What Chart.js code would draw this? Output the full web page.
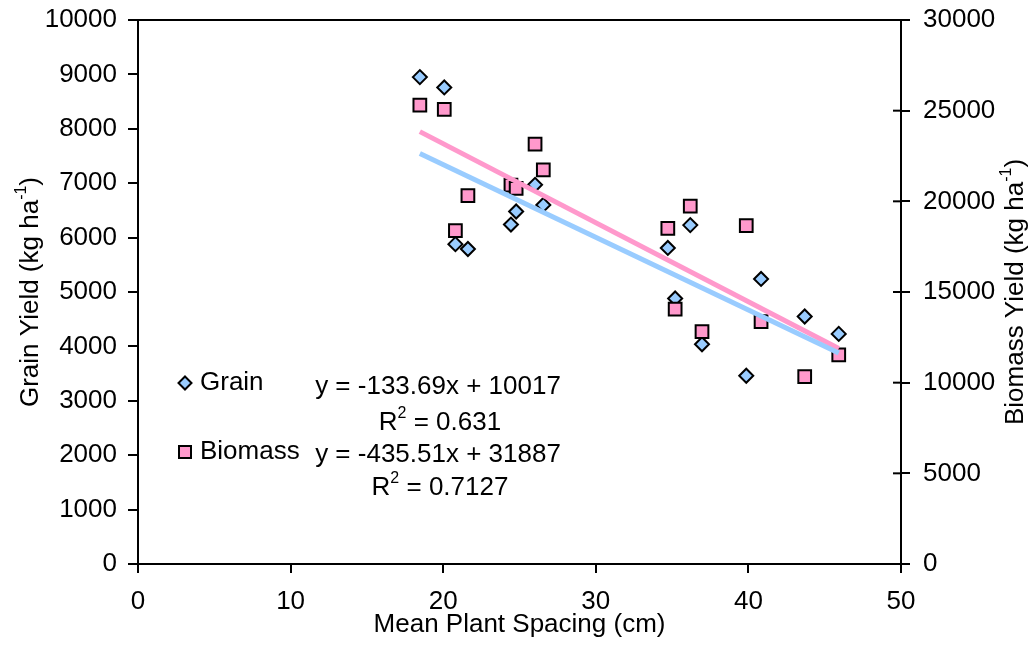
<!DOCTYPE html>
<html lang="en">
<head>
    <meta charset="UTF-8">
    <title>Grain and Biomass Yield vs Mean Plant Spacing</title>
    <script src="https://cdn.jsdelivr.net/npm/chart.js"></script>
    <style>
        body {
            margin: 0;
            background-color: #ffffff;
        }
        .wrap {
            position: relative;
            width: 1036px;
            height: 647px;
        }
    </style>
</head>
<body>
    <div class="wrap">
        <canvas id="yieldChart"></canvas>
    </div>

    <script>
        // mean plant spacing (cm) for each plot
        const spacing = [18.47, 20.07, 20.8, 21.62, 24.44, 24.78, 26.02, 26.56, 34.72, 35.2, 36.19, 36.96, 39.86, 40.83, 43.69, 45.92];
        const grain = [8950, 8760, 5880, 5790, 6240, 6480, 6970, 6600, 5810, 4880, 6230, 4040, 3460, 5240, 4550, 4230];
        const biomass = [25310, 25070, 18380, 20310, 20900, 20720, 23160, 21730, 18510, 14050, 19740, 12810, 18660, 13360, 10330, 11530];

        // linear trendline end points
        const trendX = [18.47, 45.92];
        const grainTrend = [7548, 3878];
        const biomassTrend = [23843, 11888];

        const grainEq = 'y = -133.69x + 10017';
        const grainR2 = ' = 0.631';
        const biomassEq = 'y = -435.51x + 31887';
        const biomassR2 = ' = 0.7127';

        const FONT = '"Liberation Sans", Arial, sans-serif';
        const BLUE = '#99ccff';
        const PINK = '#ff99cc';

        Chart.defaults.font.family = FONT;
        Chart.defaults.font.size = 26;
        Chart.defaults.color = '#000';

        function toPoints(xs, ys) {
            return xs.map((x, i) => ({ x: x, y: ys[i] }));
        }

        // text with superscripts, centred on x
        function richText(ctx, parts, x, y, size) {
            let total = 0;
            parts.forEach(p => {
                ctx.font = (p[1] ? Math.round(size * 0.62) : size) + 'px ' + FONT;
                total += ctx.measureText(p[0]).width;
            });
            let cx = x - total / 2;
            parts.forEach(p => {
                ctx.font = (p[1] ? Math.round(size * 0.62) : size) + 'px ' + FONT;
                ctx.fillText(p[0], cx, p[1] ? y - size * 0.38 : y);
                cx += ctx.measureText(p[0]).width;
            });
        }

        function diamond(ctx, x, y, r, fill) {
            ctx.beginPath();
            ctx.moveTo(x, y - r);
            ctx.lineTo(x + r, y);
            ctx.lineTo(x, y + r);
            ctx.lineTo(x - r, y);
            ctx.closePath();
            ctx.fillStyle = fill;
            ctx.fill();
            ctx.stroke();
        }

        const decorations = {
            id: 'decorations',
            afterDraw(chart) {
                const ctx = chart.ctx;
                const area = chart.chartArea;
                const y2 = chart.scales.y2;
                ctx.save();
                ctx.strokeStyle = '#000';
                ctx.lineWidth = 2;

                // top border of plot area
                ctx.beginPath();
                ctx.moveTo(area.left, area.top);
                ctx.lineTo(area.right, area.top);
                ctx.stroke();

                // right axis ticks cross the axis
                y2.ticks.forEach(t => {
                    const py = y2.getPixelForValue(t.value);
                    ctx.beginPath();
                    ctx.moveTo(area.right - 8, py);
                    ctx.lineTo(area.right, py);
                    ctx.stroke();
                });

                ctx.fillStyle = '#000';
                ctx.textBaseline = 'middle';
                ctx.textAlign = 'left';

                // axis titles
                const midY = (area.top + area.bottom) / 2;
                richText(ctx, [['Mean Plant Spacing (cm)', false]], (area.left + area.right) / 2, 625, 26);
                ctx.save();
                ctx.translate(31, midY);
                ctx.rotate(-Math.PI / 2);
                richText(ctx, [['Grain Yield (kg ha', false], ['-1', true], [')', false]], 0, 0, 26);
                ctx.restore();
                ctx.save();
                ctx.translate(1016, midY);
                ctx.rotate(-Math.PI / 2);
                richText(ctx, [['Biomass Yield (kg ha', false], ['-1', true], [')', false]], 0, 0, 26);
                ctx.restore();

                // legend
                const lx = area.left + 47;
                diamond(ctx, lx, area.top + 363, 6.5, BLUE);
                ctx.fillStyle = PINK;
                ctx.fillRect(lx - 6, area.top + 432 - 6, 12, 12);
                ctx.strokeRect(lx - 6, area.top + 432 - 6, 12, 12);
                ctx.fillStyle = '#000';
                ctx.font = '26px ' + FONT;
                ctx.fillText('Grain', lx + 15, area.top + 363);
                ctx.fillText('Biomass', lx + 15, area.top + 432);

                // trendline equations
                const ex = area.left + 300;
                richText(ctx, [[grainEq, false]], ex, area.top + 367, 26);
                richText(ctx, [['R', false], ['2', true], [grainR2, false]], ex + 2, area.top + 403, 26);
                richText(ctx, [[biomassEq, false]], ex, area.top + 435, 26);
                richText(ctx, [['R', false], ['2', true], [biomassR2, false]], ex + 2, area.top + 468, 26);

                ctx.restore();
            }
        };

        const plain = v => String(v);

        // fixed axis boxes so the plot area sits where the reference has it
        function fixBox(size) {
            return scale => {
                if (scale.isHorizontal()) {
                    scale.height = size;
                } else {
                    scale.width = size;
                }
                scale.paddingTop = 0;
                scale.paddingBottom = 0;
                scale.paddingLeft = 0;
                scale.paddingRight = 0;
            };
        }

        const ctx = document.getElementById('yieldChart').getContext('2d');
        new Chart(ctx, {
            type: 'scatter',
            data: {
                datasets: [
                    {
                        label: 'Grain trend',
                        data: toPoints(trendX, grainTrend),
                        yAxisID: 'y',
                        showLine: true,
                        borderColor: BLUE,
                        borderWidth: 5,
                        pointRadius: 0
                    },
                    {
                        label: 'Biomass trend',
                        data: toPoints(trendX, biomassTrend),
                        yAxisID: 'y2',
                        showLine: true,
                        borderColor: PINK,
                        borderWidth: 5,
                        pointRadius: 0
                    },
                    {
                        label: 'Biomass',
                        data: toPoints(spacing, biomass),
                        yAxisID: 'y2',
                        pointStyle: 'rect',
                        pointRadius: 9,
                        pointBackgroundColor: PINK,
                        pointBorderColor: '#000',
                        pointBorderWidth: 2
                    },
                    {
                        label: 'Grain',
                        data: toPoints(spacing, grain),
                        yAxisID: 'y',
                        pointStyle: 'rectRot',
                        pointRadius: 7,
                        pointBackgroundColor: BLUE,
                        pointBorderColor: '#000',
                        pointBorderWidth: 2
                    }
                ]
            },
            options: {
                responsive: true,
                maintainAspectRatio: false,
                animation: false,
                layout: {
                    padding: { top: 20, left: 0, right: 0, bottom: 0 }
                },
                plugins: {
                    legend: { display: false },
                    tooltip: { enabled: false }
                },
                scales: {
                    x: {
                        type: 'linear',
                        min: 0,
                        max: 50,
                        ticks: { stepSize: 10, padding: 13, callback: plain },
                        grid: { drawOnChartArea: false, color: '#000', lineWidth: 2, tickLength: 9 },
                        border: { color: '#000', width: 2 },
                        afterFit: fixBox(83)
                    },
                    y: {
                        position: 'left',
                        min: 0,
                        max: 10000,
                        ticks: { stepSize: 1000, padding: 11, callback: plain },
                        grid: { drawOnChartArea: false, color: '#000', lineWidth: 2, tickLength: 10 },
                        border: { color: '#000', width: 2 },
                        afterFit: fixBox(138)
                    },
                    y2: {
                        position: 'right',
                        min: 0,
                        max: 30000,
                        ticks: { stepSize: 5000, padding: 13, callback: plain },
                        grid: { drawOnChartArea: false, color: '#000', lineWidth: 2, tickLength: 9 },
                        border: { color: '#000', width: 2 },
                        afterFit: fixBox(135)
                    }
                }
            },
            plugins: [decorations]
        });
    </script>
</body>
</html>
